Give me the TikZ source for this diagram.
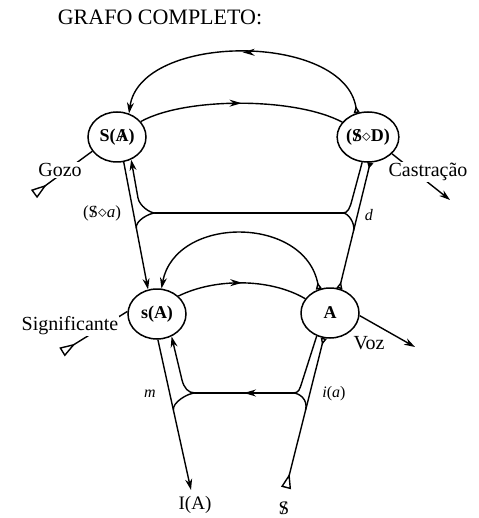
\documentclass[tikz,border=0pt]{standalone}
\usepackage{fontspec}
\setmainfont{Liberation Serif}
\usetikzlibrary{arrows.meta,decorations.markings,calc,shapes.geometric}
\newcommand{\barred}[1]{\ooalign{#1\cr\hidewidth/\hidewidth\cr}}
\begin{document}
\begin{tikzpicture}[x=1pt,y=-1pt,
  ln/.style={line width=1.4pt},
  circ/.style={draw,ellipse,line width=1.5pt,minimum width=58pt,minimum height=50pt,inner sep=0pt,font=\fontsize{18}{18}\selectfont\bfseries},
  endarr/.style={-{Stealth[length=11pt,width=7pt]}},
  midarrow/.style={postaction={decorate},decoration={markings,mark=at position #1 with {\arrow{Stealth[length=12pt,width=7pt]}}}},
  lbl/.style={font=\fontsize{20}{20}\selectfont,inner sep=1pt},
  small/.style={font=\fontsize{16}{16}\selectfont,inner sep=1pt},
  ]
\fill[white] (0,0) rectangle (478,518);
\useasboundingbox (0,0) rectangle (478,518);

\node[font=\fontsize{22}{22}\selectfont] (title) at (160,17) {GRAFO COMPLETO:};

\node[circ] (SA) at (117,137) {S(\barred{A})};
\node[circ] (SD) at (368,137) {(\barred{S}$\diamond$D)};
\node[circ] (sA) at (157,314) {s(A)};
\node[circ] (A) at (330,313) {A};

\coordinate (jUL) at (155,213);
\coordinate (jUR) at (343,213);
\coordinate (jLL) at (195,393);
\coordinate (jLR) at (293,393);
\coordinate (kUL) at (138,198);
\coordinate (kUR) at (352,200);
\coordinate (kLL) at (182,380);
\coordinate (kLR) at (302,382);
\coordinate (gz) at (34,194);
\coordinate (sg) at (62,352);
\coordinate (dl) at (286,488);
\coordinate (iaT) at (191,490);
\coordinate (cas) at (450,200);
\coordinate (voz) at (415,347);
\coordinate (mUL) at ($(SA.-75)!0.52!(sA.110)$);
\coordinate (mUR) at ($(SD.-85)!0.54!(A.69)$);
\coordinate (mLL) at ($(sA.-88)!0.47!(iaT)$);
\coordinate (mLR) at ($(dl)!0.52!(A.-104)$);

% upper part
\draw[ln, midarrow=0.5, {Triangle[open,reversed,length=7pt,width=6pt]}-{Stealth[length=11pt,width=7pt]}] (SD.115) .. controls (345,32) and (140,32) .. (SA.63);
\draw[ln, midarrow=0.5] (SA.33) .. controls (185,97) and (295,97) .. (SD.150);
\draw[ln, endarr] (SA.-75) -- (sA.110);
\draw[ln, endarr] (jUL) .. controls (150,213) and (139.5,206) .. (kUL) -- (SA.-58);
\draw[ln] (jUL) .. controls (150,213) and (134.9,220.4) .. (mUL);
\draw[ln] (jUL) -- (jUR);
\draw[ln] (jUR) .. controls (348,213) and (350,207.7) .. (kUR) -- (SD.-103);
\draw[ln] (jUR) .. controls (348,213) and (355.3,223) .. (mUR);
\draw[ln, {Triangle[reversed,length=6pt,width=6pt]}-{Triangle[open,reversed,length=7pt,width=6pt]}] (SD.-85) -- (A.69);

% lower part
\draw[ln, {Triangle[open,reversed,length=7pt,width=6pt]}-{Stealth[length=11pt,width=7pt]}] (A.115) .. controls (305,215) and (175,215) .. (sA.80);
\draw[ln, midarrow=0.5] (sA.40) .. controls (215,278) and (270,278) .. (A.150);
\draw[ln, endarr] (sA.-88) -- (iaT);
\draw[ln, endarr] (jLL) .. controls (188,393) and (184,387.8) .. (kLL) -- (sA.-57);
\draw[ln] (jLL) .. controls (188,393) and (171.8,402.6) .. (mLL);
\draw[ln, midarrow=0.5] (jLR) -- (jLL);
\draw[ln] (jLR) .. controls (299,393) and (299.5,389.6) .. (kLR) -- (A.-120);
\draw[ln] (jLR) .. controls (299,393) and (308.2,399) .. (mLR);
\draw[ln, {Triangle[open,reversed,length=15pt,width=10pt]}-{Triangle[open,reversed,length=7pt,width=6pt]}] (dl) -- (A.-104);

% side vectors
\draw[ln, {Triangle[open,reversed,length=16pt,width=10pt]}-] (gz) -- (SA.210);
\draw[ln, {Triangle[open,reversed,length=16pt,width=10pt]}-] (sg) -- (sA.175);
\draw[ln, endarr] (SD.-35) -- (cas);
\draw[ln, endarr] (A.-5) -- (voz);

% labels
\node[lbl, fill=white] (gozo) at (60,170) {Gozo};
\node[lbl, fill=white] (castr) at (428,172) {Castração};
\node[lbl, fill=white] (signif) at (70,326) {Significante};
\node[lbl] (vozl) at (369,343) {Voz};
\node[font=\fontsize{17}{17}\selectfont, inner sep=1pt] (soa) at (102,213) {(\barred{S}$\diamond$\textit{a})};
\node[small] (dlab) at (369,215) {\textit{d}};
\node[small] (mlab) at (150,394) {\textit{m}};
\node[small] (ialab) at (334,394) {\textit{i}(\textit{a})};
\node[font=\fontsize{19}{19}\selectfont] (IA) at (195,505) {I(A)};
\node[font=\fontsize{19}{19}\selectfont] (Sbar) at (284,508) {\barred{S}};
\end{tikzpicture}
\end{document}
